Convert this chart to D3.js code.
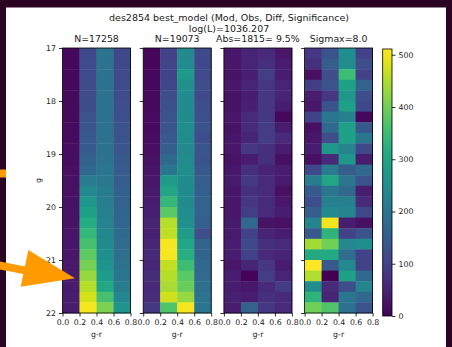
<!DOCTYPE html>
<html>
<head>
<meta charset="utf-8">
<script src="https://cdn.jsdelivr.net/npm/d3@7"></script>
<style>
body { margin: 0; background: #2a0422; }
svg { display: block; font-family: "DejaVu Sans", sans-serif; }
</style>
</head>
<body>
<svg id="chart" width="452" height="347"></svg>
<script>
// bins (left / top edges), 0.2 wide
const colorBins = [0.0, 0.2, 0.4, 0.6];
const magBins = [17.0, 17.2, 17.4, 17.6, 17.8, 18.0, 18.2, 18.4, 18.6, 18.8,
	19.0, 19.2, 19.4, 19.6, 19.8, 20.0, 20.2, 20.4, 20.6, 20.8,
	21.0, 21.2, 21.4, 21.6, 21.8];
const binSize = 0.2;

const titleLines = ["des2854 best_model (Mod, Obs, Diff, Significance)", "log(L)=1036.207"];
const panelTitles = ["N=17258", "N=19073", "Abs=1815= 9.5%", "Sigmax=8.0"];
const xTicks = [0.0, 0.2, 0.4, 0.6, 0.8];
const yTicks = [17, 18, 19, 20, 21, 22];
const cbarTicks = [0, 100, 200, 300, 400, 500];
const cmax = 511;

// one row per magnitude bin, columns = g-r bins
const modCounts = [
	[10,113,195,110],[10,114,195,112],[11,115,195,114],[11,116,195,116],[12,117,195,118],
	[12,118,195,120],[13,130,192,125],[14,135,190,128],[15,140,190,130],[16,145,192,135],
	[17,160,195,140],[18,170,200,145],[20,210,205,150],[21,240,210,155],[22,270,215,160],
	[24,290,220,165],[25,315,225,168],[27,340,235,172],[28,360,245,178],[30,385,255,185],
	[32,405,265,192],[34,430,280,200],[36,455,305,212],[38,478,360,235],[40,505,410,265]
];
const obsCounts = [
	[8,100,240,115],[9,102,245,110],[10,105,275,115],[10,108,255,120],[12,120,245,115],
	[12,125,245,120],[14,130,245,125],[15,135,250,130],[16,140,245,120],[18,150,240,135],
	[22,170,245,130],[26,200,250,140],[30,280,245,150],[35,300,245,155],[40,340,245,160],
	[45,380,250,160],[50,455,255,155],[45,460,280,120],[55,505,300,160],[60,505,320,165],
	[55,465,350,170],[62,455,380,175],[58,445,395,185],[65,475,430,195],[80,370,505,200]
];
const diffAbs = [
	[30,50,60,30],[30,50,70,40],[25,45,90,40],[30,50,80,50],[25,40,80,50],
	[25,45,80,40],[30,60,80,10],[25,60,90,40],[30,50,90,60],[30,80,70,40],
	[25,40,70,20],[30,70,50,40],[35,85,60,35],[30,70,60,20],[30,80,60,30],
	[30,90,60,40],[35,170,25,20],[35,100,50,40],[40,110,70,60],[40,100,60,50],
	[30,50,80,40],[40,5,90,50],[40,30,60,90],[45,40,70,60],[40,160,80,60]
];
const signif = [
	[80,130,250,100],[70,150,250,120],[20,120,350,100],[90,130,290,160],[40,80,270,120],
	[30,130,290,110],[100,200,220,10],[20,170,290,140],[30,120,290,200],[40,270,230,110],
	[20,60,270,40],[110,210,150,170],[210,300,200,130],[140,200,170,40],[120,220,220,60],
	[150,240,230,110],[230,500,40,20],[140,330,100,130],[440,400,240,250],[310,310,180,100],
	[510,140,240,100],[450,0,290,170],[250,60,120,230],[330,50,200,170],[400,370,190,130]
];
const panels = [modCounts, obsCounts, diffAbs, signif];

const svg = d3.select("#chart");
svg.append("rect").attr("x", 6).attr("y", 7.5).attr("width", 440).attr("height", 340).attr("fill", "#fff");

const left0 = 62.5, step = 80.7, pw = 68, plotTop = 48, ph = 265;

const x = d3.scaleLinear().domain([0, 0.8]).range([0, pw]);
const y = d3.scaleLinear().domain([17, 22]).range([0, ph]);
const color = d3.scaleSequential(d3.interpolateViridis).domain([0, cmax]);

svg.selectAll("text.title")
	.data(titleLines)
	.enter().append("text")
	.attr("x", 229).attr("y", (d, i) => 20.5 + i * 11)
	.attr("text-anchor", "middle").attr("font-size", 9.5).attr("fill", "#222")
	.text(d => d);

panels.forEach(function(data, p) {
	var g = svg.append("g").attr("transform", `translate(${left0 + p * step},${plotTop})`);
	var cells = [];
	data.forEach((row, r) => row.forEach((v, c) => cells.push({mag: magBins[r], gr: colorBins[c], v: v})));
	g.selectAll("rect.cell")
		.data(cells)
		.enter().append("rect")
		.attr("x", d => x(d.gr))
		.attr("y", d => y(d.mag))
		.attr("width", d => x(d.gr + binSize) - x(d.gr) + 0.4)
		.attr("height", d => y(d.mag + binSize) - y(d.mag) + 0.4)
		.attr("fill", d => color(d.v));

	g.append("rect").attr("width", pw).attr("height", ph)
		.attr("fill", "none").attr("stroke", "#000").attr("stroke-width", 0.8);

	var xa = g.append("g").attr("transform", `translate(0,${ph})`)
		.call(d3.axisBottom(x).tickValues(xTicks).tickFormat(d3.format(".1f")).tickSize(3.5).tickSizeOuter(0));
	var ya = g.append("g")
		.call(d3.axisLeft(y).tickValues(yTicks).tickFormat(p == 0 ? d3.format("d") : "").tickSize(3.5).tickSizeOuter(0));
	[xa, ya].forEach(a => {
		a.select(".domain").remove();
		a.selectAll("line").attr("stroke-width", 0.8);
		a.selectAll("text").attr("font-family", "DejaVu Sans").attr("font-size", 7.8).attr("fill", "#222");
	});

	g.append("text").attr("x", pw / 2).attr("y", -6)
		.attr("text-anchor", "middle").attr("font-size", 9.4).attr("fill", "#222")
		.text(panelTitles[p]);
	g.append("text").attr("x", pw / 2).attr("y", ph + 24)
		.attr("text-anchor", "middle").attr("font-size", 7.8).attr("fill", "#222")
		.text("g-r");
	if (p == 0) {
		g.append("text").attr("transform", `translate(-22,${ph / 2}) rotate(-90)`)
			.attr("text-anchor", "middle").attr("font-size", 7.8).attr("fill", "#222")
			.text("g");
	}
});

// colorbar
var cbX = 382.7, cbW = 9.3, cbTop = 49, cbBot = 316;
var cy = d3.scaleLinear().domain([0, cmax]).range([cbBot, cbTop]);
var defs = svg.append("defs");
var grad = defs.append("linearGradient").attr("id", "cbgrad")
	.attr("x1", 0).attr("y1", 1).attr("x2", 0).attr("y2", 0);
grad.selectAll("stop")
	.data(d3.range(0, 1.0001, 0.05))
	.enter().append("stop")
	.attr("offset", d => d)
	.attr("stop-color", d => d3.interpolateViridis(d));
svg.append("rect").attr("x", cbX).attr("y", cbTop).attr("width", cbW).attr("height", cbBot - cbTop)
	.attr("fill", "url(#cbgrad)").attr("stroke", "#000").attr("stroke-width", 0.8);
var ca = svg.append("g").attr("transform", `translate(${cbX + cbW},0)`)
	.call(d3.axisRight(cy).tickValues(cbarTicks).tickSize(3.5));
ca.select(".domain").remove();
ca.selectAll("line").attr("stroke-width", 0.8);
ca.selectAll("text").attr("font-family", "DejaVu Sans").attr("font-size", 7.8).attr("fill", "#222");

// orange annotation overlays
svg.append("polygon")
	.attr("points", "0,261.5 24.9,266.4 28.3,250 75,278.3 20.7,286.7 23.3,274.1 0,269.5")
	.attr("fill", "#ff9b00");
svg.append("rect").attr("x", 0).attr("y", 169.5).attr("width", 6).attr("height", 8).attr("fill", "#ff9b00");
</script>
</body>
</html>
